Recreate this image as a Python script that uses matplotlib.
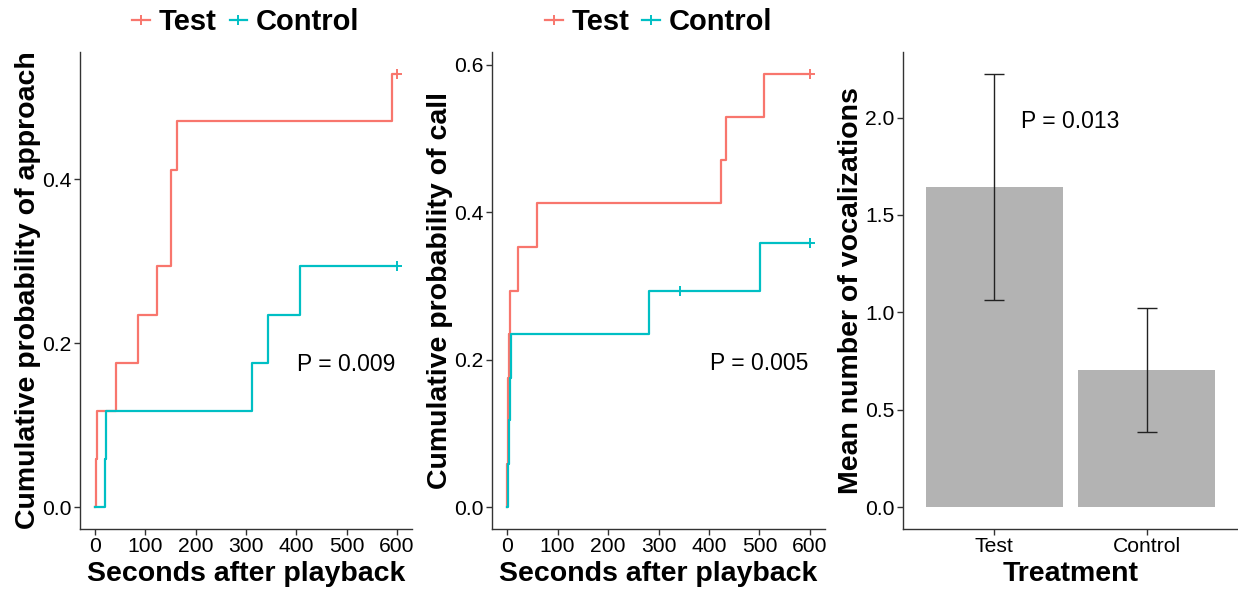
import matplotlib
matplotlib.use("Agg")
import matplotlib.pyplot as plt
from matplotlib.lines import Line2D

plt.rcParams['font.family'] = ['Liberation Sans', 'DejaVu Sans']

# ---------------- data ----------------
groups = ["Test", "Control"]
colors = {"Test": "#F8766D", "Control": "#00BFC4"}

# Panel 1: cumulative probability of approach (step times, s / levels)
approach_test_t = [0, 2, 4, 41, 86, 124, 151, 162, 591, 600]
approach_test_y = [0, 0.059, 0.118, 0.176, 0.235, 0.294, 0.412, 0.471, 0.529, 0.529]
approach_ctrl_t = [0, 19, 22, 311, 343, 408, 600]
approach_ctrl_y = [0, 0.059, 0.118, 0.176, 0.235, 0.294, 0.294]
approach_test_cens_t = [600]
approach_test_cens_y = [0.529]
approach_ctrl_cens_t = [600]
approach_ctrl_cens_y = [0.294]
approach_p = "P = 0.009"

# Panel 2: cumulative probability of call
call_test_t = [0, 0.5, 1, 1.5, 4.5, 5, 21, 59, 423, 433, 510, 600]
call_test_y = [0, 0.059, 0.118, 0.176, 0.235, 0.294, 0.353, 0.412, 0.471, 0.529, 0.588, 0.588]
call_ctrl_t = [0, 2, 4, 5.5, 7.5, 281, 502, 600]
call_ctrl_y = [0, 0.059, 0.118, 0.176, 0.235, 0.294, 0.359, 0.359]
call_test_cens_t = [600]
call_test_cens_y = [0.588]
call_ctrl_cens_t = [343, 600]
call_ctrl_cens_y = [0.294, 0.359]
call_p = "P = 0.005"

# Panel 3: mean number of vocalizations
treatments = ["Test", "Control"]
voc_mean = [1.645, 0.705]
voc_low = [1.065, 0.385]
voc_high = [2.225, 1.023]
voc_p = "P = 0.013"

x_ticks = [0, 100, 200, 300, 400, 500, 600]

# ---------------- figure ----------------
W, H = 1238, 590
fig = plt.figure(figsize=(W / 100, H / 100), dpi=100)


def add_ax(l, r, t, b):
    return fig.add_axes([l / W, 1 - b / H, (r - l) / W, (b - t) / H])


AXC = "#333333"
TICK_FS = 15.2
TITLE_FS = 20.5
P_FS = 16.5


def style(ax):
    for s in ["top", "right"]:
        ax.spines[s].set_visible(False)
    for s in ["left", "bottom"]:
        ax.spines[s].set_color(AXC)
        ax.spines[s].set_linewidth(1.0)
    ax.tick_params(length=4, width=1.0, color=AXC, labelsize=TICK_FS,
                   labelcolor="black", pad=2)


def km_panel(ax, tt, ty, ct, cy, tct, tcy, cct, ccy, ptext, ppos, ylabel, yticks):
    ax.step(tt, ty, where="post", color=colors["Test"], lw=1.6)
    ax.step(ct, cy, where="post", color=colors["Control"], lw=1.6)
    ax.plot(tct, tcy, ls="none", marker="+", ms=6.5, mew=1.4, color=colors["Test"])
    ax.plot(cct, ccy, ls="none", marker="+", ms=6.5, mew=1.4, color=colors["Control"])
    ymax = max(max(ty), max(cy))
    ax.set_xlim(-30, 630)
    ax.set_ylim(-0.05 * ymax, 1.05 * ymax)
    ax.set_xticks(x_ticks)
    ax.set_yticks(yticks)
    ax.set_yticklabels([f"{v:.1f}" for v in yticks])
    ax.text(ppos[0], ppos[1], ptext, fontsize=P_FS, ha="center", va="center")
    ax.set_xlabel("Seconds after playback", fontsize=TITLE_FS, fontweight="bold")
    ax.set_ylabel(ylabel, fontsize=TITLE_FS, fontweight="bold")
    style(ax)
    handles = [Line2D([0], [0], color=colors[g], lw=1.6, marker="+", ms=6.5, mew=1.4)
               for g in groups]
    ax.legend(handles, groups, loc="center", bbox_to_anchor=(0.5, 1.062),
              ncol=2, frameon=False, handlelength=0.6, handletextpad=0.3,
              columnspacing=0.45,
              prop={"size": TITLE_FS + 0.5, "weight": "bold"})


ax1 = add_ax(80, 412, 52, 529)
km_panel(ax1, approach_test_t, approach_test_y, approach_ctrl_t, approach_ctrl_y,
         approach_test_cens_t, approach_test_cens_y, approach_ctrl_cens_t,
         approach_ctrl_cens_y, approach_p, (500, 0.174),
         "Cumulative probability of approach", [0.0, 0.2, 0.4])
ax1.yaxis.set_label_coords(-0.118, 0.5)
ax1.xaxis.set_label_coords(0.5, -0.068)

ax2 = add_ax(492, 825, 52, 529)
km_panel(ax2, call_test_t, call_test_y, call_ctrl_t, call_ctrl_y,
         call_test_cens_t, call_test_cens_y, call_ctrl_cens_t, call_ctrl_cens_y,
         call_p, (500, 0.195),
         "Cumulative probability of call", [0.0, 0.2, 0.4, 0.6])
ax2.yaxis.set_label_coords(-0.118, 0.5)
ax2.xaxis.set_label_coords(0.5, -0.068)

ax3 = add_ax(903, 1238, 52, 529)
xpos = list(range(1, len(treatments) + 1))
ax3.bar(xpos, voc_mean, width=0.9, color="#B3B3B3")
yerr = [[m - lo for m, lo in zip(voc_mean, voc_low)],
        [hi - m for m, hi in zip(voc_mean, voc_high)]]
ax3.errorbar(xpos, voc_mean, yerr=yerr, fmt="none", ecolor="#222222",
             elinewidth=1.0, capsize=7.5, capthick=1.0)
ax3.set_xlim(0.4, 2.6)
ymax3 = max(voc_high)
ax3.set_ylim(-0.05 * ymax3, 1.05 * ymax3)
ax3.set_xticks(xpos)
ax3.set_xticklabels(treatments)
ax3.set_yticks([0.0, 0.5, 1.0, 1.5, 2.0])
ax3.set_yticklabels(["0.0", "0.5", "1.0", "1.5", "2.0"])
ax3.text(1.5, 1.98, voc_p, fontsize=P_FS, ha="center", va="center")
ax3.set_xlabel("Treatment", fontsize=TITLE_FS, fontweight="bold")
ax3.set_ylabel("Mean number of vocalizations", fontsize=TITLE_FS, fontweight="bold")
style(ax3)
ax3.yaxis.set_label_coords(-0.117, 0.5)
ax3.xaxis.set_label_coords(0.5, -0.068)

fig.savefig("out.png", dpi=100)
